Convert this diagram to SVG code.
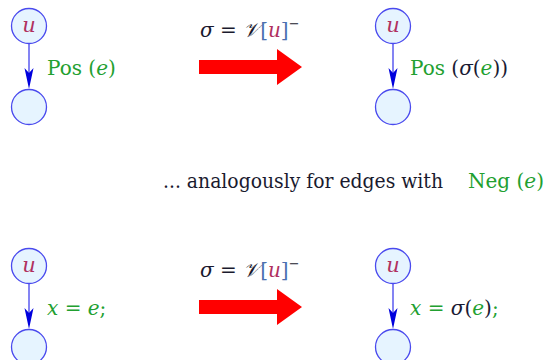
<svg xmlns="http://www.w3.org/2000/svg" width="546" height="360" viewBox="0 0 546 360" font-family="DejaVu Serif, serif">
<style>
.node{fill:#e6f4ff;stroke:#4a4aee;stroke-width:1.3}
.edge{stroke:#5050ee;stroke-width:1.4;fill:none}
.head{fill:#0000dd}
.u{font-style:italic;font-size:21px;fill:#b03060}
.lbl{font-size:20px;fill:#22a030}
.it{font-style:italic}
.dark{fill:#1a1a33}
.br{fill:#4a70b0}
.txt{font-size:20px;fill:#1a1a2e}
.big{fill:#ff0000}
</style>
<g id="connectors">
<path class="edge" d="M29,43.5 V74"/><path class="head" d="M29,89 L24.5,68 L29,73 L33.5,68 Z"/>
<path class="edge" d="M393,43.5 V74"/><path class="head" d="M393,89 L388.5,68 L393,73 L397.5,68 Z"/>
<path class="edge" d="M29,283.5 V314"/><path class="head" d="M29,329 L24.5,308 L29,313 L33.5,308 Z"/>
<path class="edge" d="M393,283.5 V314"/><path class="head" d="M393,329 L388.5,308 L393,313 L397.5,308 Z"/>
</g>
<g id="n1"><circle class="node" cx="29" cy="26" r="17.5"/><text class="u" x="29" y="32" text-anchor="middle">u</text></g>
<g id="n2"><circle class="node" cx="29" cy="107" r="17.5"/></g>
<g id="n3"><circle class="node" cx="393" cy="26" r="17.5"/><text class="u" x="393" y="32" text-anchor="middle">u</text></g>
<g id="n4"><circle class="node" cx="393" cy="107" r="17.5"/></g>
<g id="n5"><circle class="node" cx="29" cy="266" r="17.5"/><text class="u" x="29" y="272" text-anchor="middle">u</text></g>
<g id="n6"><circle class="node" cx="29" cy="347" r="17.5"/></g>
<g id="n7"><circle class="node" cx="393" cy="266" r="17.5"/><text class="u" x="393" y="272" text-anchor="middle">u</text></g>
<g id="n8"><circle class="node" cx="393" cy="347" r="17.5"/></g>
<g id="labels">
<text class="lbl" x="47" y="75">Pos <tspan>(</tspan><tspan class="it">e</tspan>)</text>
<text class="lbl" x="410" y="75">Pos <tspan class="dark">(</tspan><tspan class="it dark">σ</tspan><tspan class="dark">(</tspan><tspan class="it">e</tspan><tspan class="dark">))</tspan></text>
<text class="lbl" x="47" y="315"><tspan class="it">x</tspan> = <tspan class="it">e</tspan>;</text>
<text class="lbl" x="410" y="315"><tspan class="it">x</tspan> = <tspan class="it dark">σ</tspan><tspan class="dark">(</tspan><tspan class="it">e</tspan><tspan class="dark">)</tspan>;</text>
<text class="txt" x="163" y="188" font-size="19" textLength="280" lengthAdjust="spacingAndGlyphs">... analogously for edges with</text>
<text class="lbl" x="468" y="188" font-size="18.5">Neg (<tspan class="it">e</tspan>)</text>
</g>
<g id="transform1">
<text class="txt" x="200" y="37" font-size="19"><tspan class="it">σ</tspan> = <tspan class="it">𝒱</tspan><tspan class="br">[</tspan><tspan class="it" fill="#b03060">u</tspan><tspan class="br">]</tspan><tspan dy="-9" font-size="13">−</tspan></text>
<path class="big" d="M199,60 H277 V49 L302,67 L277,85 V74 H199 Z"/>
</g>
<g id="transform2">
<text class="txt" x="200" y="277" font-size="19"><tspan class="it">σ</tspan> = <tspan class="it">𝒱</tspan><tspan class="br">[</tspan><tspan class="it" fill="#b03060">u</tspan><tspan class="br">]</tspan><tspan dy="-9" font-size="13">−</tspan></text>
<path class="big" d="M199,300 H277 V289 L302,307 L277,325 V314 H199 Z"/>
</g>
</svg>
